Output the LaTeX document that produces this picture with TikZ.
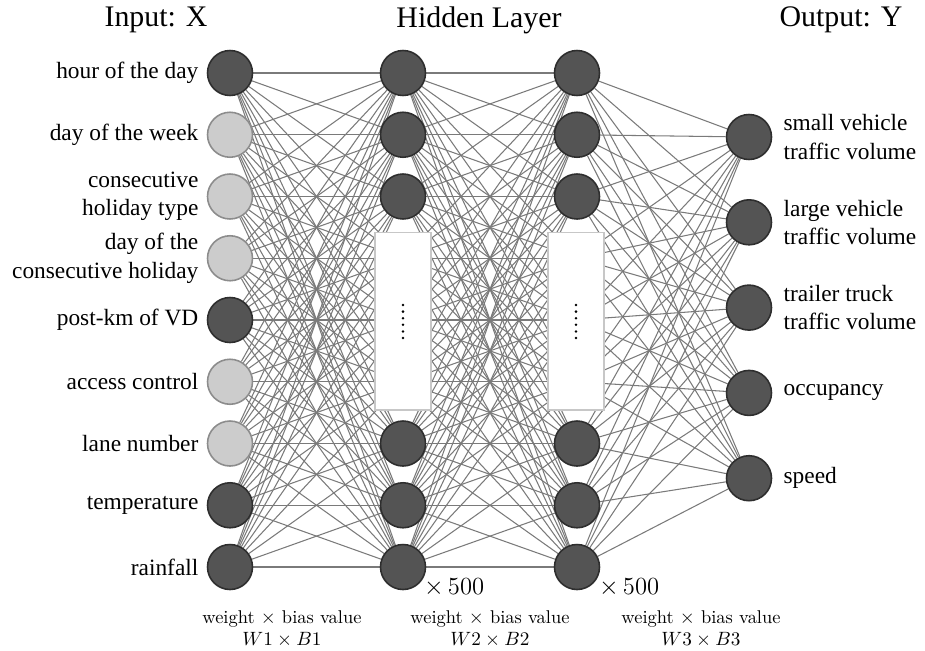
\documentclass[tikz,border=0pt]{standalone}
\usepackage{fontspec}
\newfontfamily\tnr{Liberation Serif}[Ligatures=TeX]
\usetikzlibrary{positioning,backgrounds}

\tikzset{
  neuron/.style={circle, minimum size=0.9cm, inner sep=0pt, line width=0.9pt},
  dark/.style={neuron, fill=black!67, draw=black!82},
  light/.style={neuron, fill=black!20, draw=black!45},
  ghost/.style={circle, minimum size=0.9cm, inner sep=0pt},
  edge/.style={draw=black!52, line width=0.6pt},
  hidbox/.style={draw=black!22, fill=white, line width=0.6pt, minimum width=1.12cm, minimum height=3.56cm},
  inlabel/.style={font={\tnr\fontsize{13.3}{16}\selectfont}, inner sep=0pt},
  title/.style={font={\tnr\fontsize{17}{20}\selectfont}},
  wlabel/.style={font=\fontsize{10.5}{12.5}\selectfont, align=center}
}

\begin{document}
\begin{tikzpicture}[x=0.02cm, y=-0.02cm]
\useasboundingbox (0,0) rectangle (925,650);

% titles
\node[title] (tin) at (156,20) {Input: X};
\node[title] (thid) at (479,20) {Hidden Layer};
\node[title] (tout) at (841,20) {Output: Y};

% input layer
\foreach \i/\c/\t in {1/dark/hour of the day, 2/light/day of the week,
    3/light/{consecutive\\holiday type}, 4/light/{day of the\\consecutive holiday},
    5/dark/post-km of VD, 6/light/access control, 7/light/lane number,
    8/dark/temperature, 9/dark/rainfall}
{
    \node[\c] (in\i) at (230,{73+61.75*(\i-1)}) {};
    \node[inlabel, align=right, left=0.16cm of in\i] (lin\i) {\t};
}

% hidden layers
\foreach \l/\x in {1/403, 2/577}
{
    \foreach \j in {1,2,3,7,8,9}
        \node[dark] (h\l\j) at (\x,{73+61.75*(\j-1)}) {};
    \foreach \j in {4,5,6}
        \node[ghost] (h\l\j) at (\x,{73+61.75*(\j-1)}) {};
}

% output layer
\foreach \k/\t in {1/{small vehicle\\traffic volume}, 2/{large vehicle\\traffic volume},
    3/{trailer truck\\traffic volume}, 4/occupancy, 5/speed}
{
    \node[dark] (out\k) at (749,{137+85.3*(\k-1)}) {};
    \node[inlabel, align=left, right=0.22cm of out\k] (lout\k) {\t};
}

\begin{pgfonlayer}{background}
\foreach \i in {1,...,9}
    \foreach \j in {1,...,9}
    {
        \draw[edge] (in\i) -- (h1\j);
        \draw[edge] (h1\i) -- (h2\j);
    }
\foreach \i in {1,...,9}
    \foreach \k in {1,...,5}
        \draw[edge] (h2\i) -- (out\k);
\end{pgfonlayer}

% boxes standing for the hidden neurons left out
\foreach \l/\x in {1/403, 2/576}
{
    \node[hidbox] (box\l) at (\x,321) {};
    \foreach \d in {0,...,5}
        \fill (\x,{305+6.6*\d}) circle (1.4);
}

\node[font=\fontsize{14}{16}\selectfont, anchor=west] (n1) at (418,587) {$\times$\,500};
\node[font=\fontsize{14}{16}\selectfont, anchor=west] (n2) at (593,587) {$\times$\,500};

\node[wlabel] (w1) at (282,629) {weight $\times$ bias value\\$W1\times B1$};
\node[wlabel] (w2) at (490,629) {weight $\times$ bias value\\$W2\times B2$};
\node[wlabel] (w3) at (701,629) {weight $\times$ bias value\\$W3\times B3$};
\end{tikzpicture}
\end{document}
